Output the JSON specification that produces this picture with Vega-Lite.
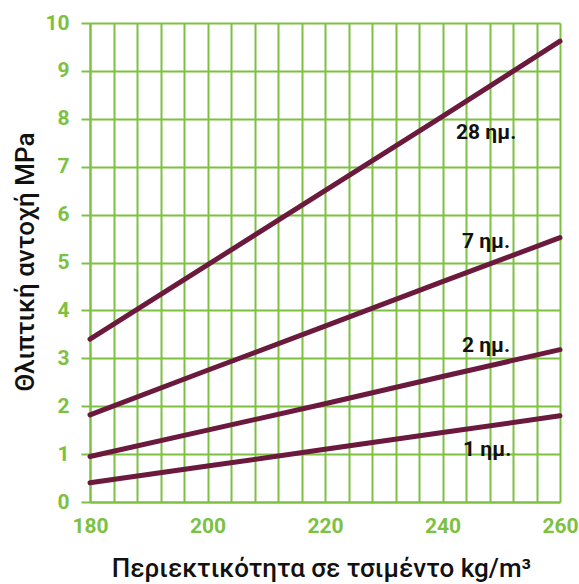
{
  "$schema": "https://vega.github.io/schema/vega-lite/v6.json",
  "autosize": "none",
  "width": 470,
  "height": 479,
  "padding": {"left": 90, "top": 23, "right": 19, "bottom": 82},
  "background": "white",
  "config": {
    "view": {"stroke": null},
    "font": "Roboto"
  },
  "datasets": {
    "curves": [
      {"series": "28", "cement": 180, "strength": 3.4},
      {"series": "28", "cement": 200, "strength": 4.95},
      {"series": "28", "cement": 220, "strength": 6.5},
      {"series": "28", "cement": 240, "strength": 8.05},
      {"series": "28", "cement": 260, "strength": 9.62},
      {"series": "7", "cement": 180, "strength": 1.82},
      {"series": "7", "cement": 200, "strength": 2.75},
      {"series": "7", "cement": 220, "strength": 3.67},
      {"series": "7", "cement": 240, "strength": 4.6},
      {"series": "7", "cement": 260, "strength": 5.52},
      {"series": "2", "cement": 180, "strength": 0.95},
      {"series": "2", "cement": 200, "strength": 1.5},
      {"series": "2", "cement": 220, "strength": 2.05},
      {"series": "2", "cement": 240, "strength": 2.62},
      {"series": "2", "cement": 260, "strength": 3.18},
      {"series": "1", "cement": 180, "strength": 0.4},
      {"series": "1", "cement": 200, "strength": 0.75},
      {"series": "1", "cement": 220, "strength": 1.1},
      {"series": "1", "cement": 240, "strength": 1.45},
      {"series": "1", "cement": 260, "strength": 1.8}
    ],
    "labels": [
      {"label": "28 ημ.", "cement": 242.3, "strength": 7.58},
      {"label": "7 ημ.", "cement": 243.3, "strength": 5.3},
      {"label": "2 ημ.", "cement": 243.3, "strength": 3.13},
      {"label": "1 ημ.", "cement": 243.5, "strength": 0.96}
    ]
  },
  "layer": [
    {
      "data": {"name": "curves"},
      "mark": {"type": "line", "color": "#6b1a3e", "strokeWidth": 5, "strokeCap": "round", "clip": false},
      "encoding": {
        "x": {
          "field": "cement", "type": "quantitative",
          "scale": {"domain": [180, 260], "nice": false, "zero": false},
          "axis": {
            "title": "Περιεκτικότητα σε τσιμέντο kg/m³",
            "values": [180,184,188,192,196,200,204,208,212,216,220,224,228,232,236,240,244,248,252,256,260],
            "tickCount": 40,
            "format": "d",
            "labelExpr": "datum.value % 20 === 0 ? datum.label : ''",
            "labelOverlap": false,
            "ticks": false,
            "grid": true, "gridColor": "#7dc142", "gridWidth": 2, "gridOpacity": 1,
            "domain": true, "domainColor": "#7dc142", "domainWidth": 2,
            "labelColor": "#7dc142", "labelFont": "Roboto", "labelFontWeight": "bold", "labelFontSize": 21,
            "labelPadding": 13, "labelFlush": false,
            "titleFont": "Roboto", "titleFontWeight": 500, "titleFontSize": 26, "titleColor": "#111111",
            "titleBaseline": "alphabetic", "titleAlign": "center", "titleX": 231, "titleY": 74
          }
        },
        "y": {
          "field": "strength", "type": "quantitative",
          "scale": {"domain": [0, 10], "nice": false},
          "axis": {
            "title": "Θλιπτική αντοχή MPa",
            "values": [0,1,2,3,4,5,6,7,8,9,10],
            "tickCount": 20,
            "format": "d",
            "labelOverlap": false,
            "ticks": true, "tickSize": 9, "tickColor": "#7dc142", "tickWidth": 2,
            "grid": true, "gridColor": "#7dc142", "gridWidth": 2, "gridOpacity": 1,
            "domain": true, "domainColor": "#7dc142", "domainWidth": 2,
            "labelColor": "#7dc142", "labelFont": "Roboto", "labelFontWeight": "bold", "labelFontSize": 21,
            "labelPadding": 12, "labelFlush": false,
            "titleFont": "Roboto", "titleFontWeight": 500, "titleFontSize": 26, "titleColor": "#111111",
            "titleBaseline": "alphabetic", "titleAlign": "center", "titleAngle": -90, "titleX": -57, "titleY": 238.5
          }
        },
        "detail": {"field": "series", "type": "nominal"}
      }
    },
    {
      "data": {"name": "labels"},
      "mark": {"type": "text", "align": "left", "baseline": "alphabetic", "font": "Roboto", "fontWeight": "bold", "fontSize": 21, "color": "#111111"},
      "encoding": {
        "x": {"field": "cement", "type": "quantitative"},
        "y": {"field": "strength", "type": "quantitative"},
        "text": {"field": "label", "type": "nominal"}
      }
    }
  ]
}
